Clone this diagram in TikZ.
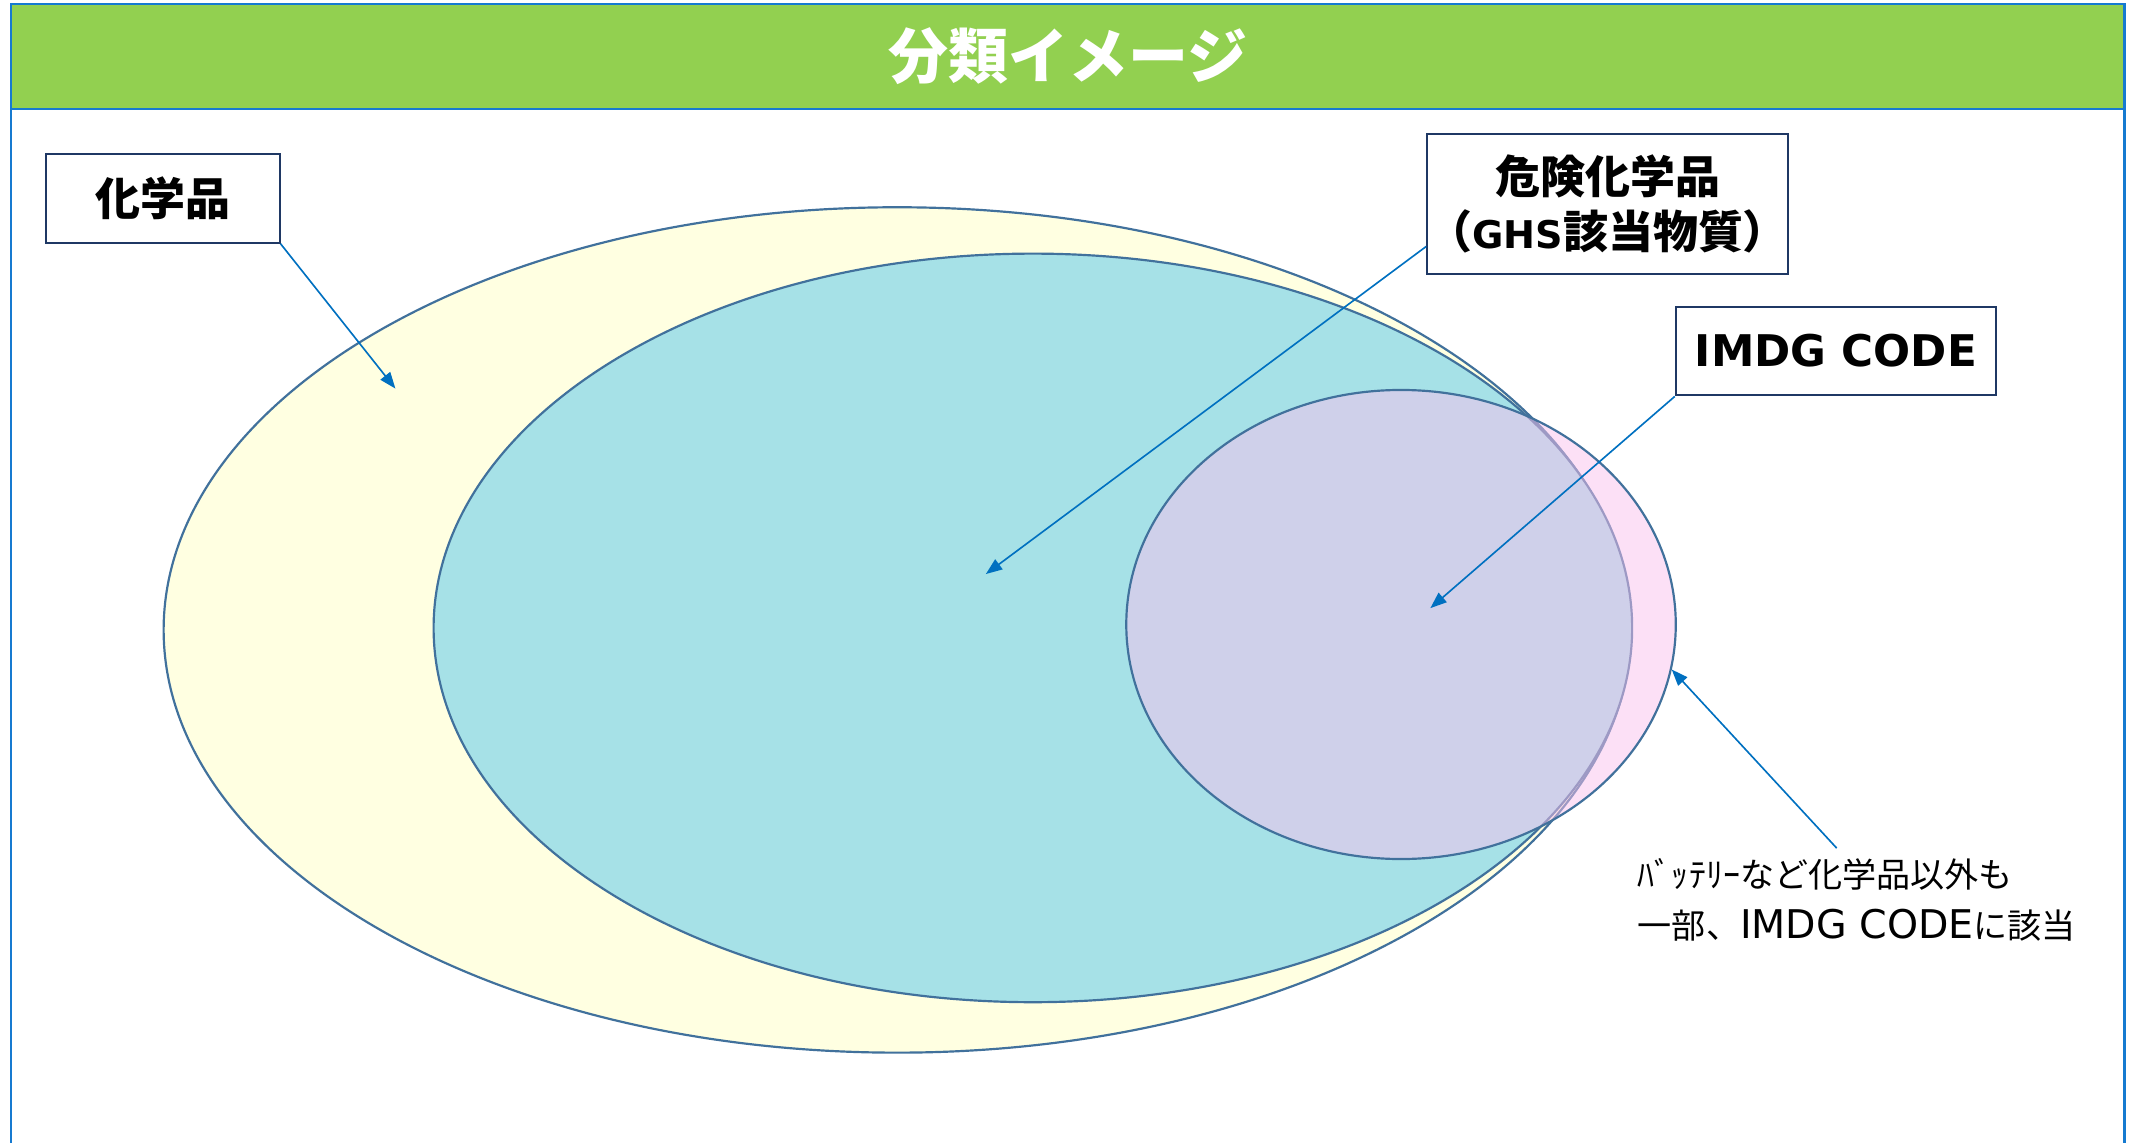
\documentclass[tikz,border=0pt]{standalone}
\usepackage{fontspec}
\setmainfont{Noto Sans CJK JP}
\newfontfamily\lat{DejaVu Sans}
\usetikzlibrary{arrows.meta,calc}
\definecolor{frameblue}{RGB}{22,122,208}
\definecolor{hdrgreen}{RGB}{146,208,80}
\definecolor{boxnavy}{RGB}{31,56,100}
\definecolor{ellline}{RGB}{65,113,156}
\definecolor{yelfill}{RGB}{255,255,225}
\definecolor{tealfill}{RGB}{166,225,231}
\definecolor{pinkfill}{RGB}{249,193,237}
\definecolor{arrblue}{RGB}{0,112,192}
\tikzset{
  labelbox/.style={draw=boxnavy, line width=1.5pt, fill=white, align=center, inner sep=0pt, font=\bfseries\fontsize{33}{40}\selectfont},
  ellout/.style={draw=ellline, line width=1.6pt},
  callout/.style={draw=arrblue, line width=1.2pt, -{Triangle[length=12pt,width=9pt]}}
}
\begin{document}
\begin{tikzpicture}[x=1pt,y=-1pt]
\useasboundingbox (0,0) rectangle (1568,838);
% frame and header
\draw[frameblue, line width=2pt] (8,80) -- (8,845);
\draw[frameblue, line width=2pt] (1558,80) -- (1558,845);
\draw[frameblue, line width=2pt, fill=hdrgreen] (8,3) rectangle (1558,80);
\node[text=white, font=\bfseries\fontsize{44}{50}\selectfont] (title) at (783,41) {分類イメージ};
% ellipses
\draw[ellout, fill=yelfill] (658,462) ellipse [x radius=538pt, y radius=310pt];
\draw[ellout, fill=tealfill] (757.5,460.5) ellipse [x radius=439.5pt, y radius=274.5pt];
\draw[ellout, fill=pinkfill, fill opacity=0.5] (1027.5,458) ellipse [x radius=201.5pt, y radius=172pt];
% label boxes
\node[labelbox, minimum width=171pt, minimum height=65pt] (chem) at (119.5,145.5) {化学品};
\node[labelbox, minimum width=262pt, minimum height=103pt] (ghs) at (1179,149.5) {危険化学品\\（{\lat\fontsize{28}{40}\selectfont GHS}該当物質）};
\node[labelbox, minimum width=235pt, minimum height=65pt] (imdg) at (1346.5,257.5) {\lat\fontsize{32}{40}\selectfont IMDG CODE};
\node[anchor=north west, align=left, inner sep=0pt, font=\fontsize{25}{38}\selectfont] (note) at (1201,629) {ﾊﾞｯﾃﾘｰなど化学品以外も\\一部、{\lat\fontsize{29}{38}\selectfont IMDG CODE}に該当};
% arrow targets
\coordinate (tchem) at (290,285);
\coordinate (tghs) at (723,421);
\coordinate (timdg) at (1049,446);
\coordinate (tnote) at (1226,491);
\coordinate (snote) at (1347,622);
\draw[callout] (chem.south east) -- (tchem);
\draw[callout] ($(ghs.south west)+(0,-21)$) -- (tghs);
\draw[callout] (imdg.south west) -- (timdg);
\draw[callout] (snote) -- (tnote);
\end{tikzpicture}
\end{document}
